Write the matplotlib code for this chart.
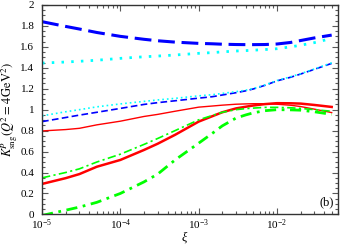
import numpy as np
import matplotlib
matplotlib.use("Agg")
import matplotlib.pyplot as plt
from matplotlib.ticker import LogLocator, MultipleLocator, FormatStrFormatter, NullFormatter

plt.rcParams['font.family'] = ['Liberation Serif', 'DejaVu Serif']
plt.rcParams['mathtext.fontset'] = 'stix'

# xi values (log grid)
xi = [1e-5, 2e-5, 3e-5, 5e-5, 1e-4, 2e-4, 3e-4, 5e-4, 1e-3, 1.5e-3,
      2e-3, 3e-3, 4e-3, 5e-3, 7e-3, 1e-2, 1.5e-2, 2e-2, 3e-2, 5e-2]

# blue, thick long dash
blue_thick = [1.84, 1.795, 1.77, 1.737, 1.70, 1.672, 1.658, 1.645, 1.633, 1.629,
              1.625, 1.622, 1.621, 1.621, 1.622, 1.627, 1.642, 1.66, 1.685, 1.712]
# blue, thin dash
blue_thin = [0.886, 0.925, 0.948, 0.975, 1.012, 1.050, 1.067, 1.085, 1.110, 1.124,
             1.140, 1.162, 1.18, 1.198, 1.232, 1.275, 1.31, 1.34, 1.385, 1.442]
# cyan, thick dotted
cyan_thick = [1.445, 1.455, 1.462, 1.472, 1.49, 1.505, 1.512, 1.522, 1.538, 1.545,
              1.552, 1.56, 1.564, 1.568, 1.574, 1.582, 1.60, 1.615, 1.64, 1.68]
# cyan, thin dotted
cyan_thin = [0.941, 0.98, 1.0, 1.027, 1.055, 1.079, 1.093, 1.108, 1.132, 1.143,
             1.155, 1.172, 1.186, 1.202, 1.236, 1.278, 1.315, 1.343, 1.388, 1.447]
# red, thick solid
red_thick = [0.291, 0.346, 0.385, 0.455, 0.52, 0.615, 0.675, 0.76, 0.886, 0.938,
             0.975, 1.012, 1.028, 1.04, 1.053, 1.062, 1.061, 1.058, 1.045, 1.026]
# red, thin solid
red_thin = [0.797, 0.81, 0.822, 0.855, 0.89, 0.935, 0.955, 0.985, 1.024, 1.035,
            1.043, 1.052, 1.055, 1.057, 1.057, 1.052, 1.042, 1.03, 1.005, 0.972]
# green, thick dash-dot
green_thick = [-0.01, 0.04, 0.07, 0.115, 0.20, 0.31, 0.385, 0.52, 0.68, 0.775,
               0.845, 0.92, 0.95, 0.97, 0.99, 1.0, 0.998, 0.995, 0.98, 0.955]
# green, thin dash-dot
green_thin = [0.349, 0.40, 0.435, 0.50, 0.575, 0.668, 0.725, 0.80, 0.903, 0.945,
              0.975, 1.0, 1.01, 1.015, 1.022, 1.022, 1.018, 1.012, 1.0, 0.985]

fig = plt.figure(figsize=(3.42, 2.47), dpi=100)
ax = fig.add_axes([0.123, 0.132, 0.865, 0.848])

ax.plot(xi, blue_thick, color='#0000ff', lw=2.2, dashes=(5.5, 2.2))
ax.plot(xi, cyan_thick, color='#00ffff', lw=2.0, dashes=(0.9, 2.6))
ax.plot(xi, blue_thin, color='#0000ff', lw=1.2, dashes=(4, 2))
ax.plot(xi, cyan_thin, color='#00ffff', lw=1.2, dashes=(1, 1.8))
ax.plot(xi, red_thin, color='#ff0000', lw=1.0)
ax.plot(xi, red_thick, color='#ff0000', lw=1.8)
ax.plot(xi, green_thin, color='#00ff00', lw=1.2, dashes=(5, 2, 1.3, 2))
ax.plot(xi, green_thick, color='#00ff00', lw=2.0, dashes=(4, 2, 1, 2))

ax.set_xscale('log')
ax.set_xlim(1e-5, 0.06)
ax.set_ylim(0, 2)
ax.xaxis.set_major_locator(LogLocator(base=10, numticks=10))
ax.xaxis.set_minor_locator(LogLocator(base=10, subs=np.arange(2, 10), numticks=10))
ax.xaxis.set_minor_formatter(NullFormatter())
ax.yaxis.set_major_locator(MultipleLocator(0.2))
ax.yaxis.set_minor_locator(MultipleLocator(0.05))
ax.yaxis.set_major_formatter(FormatStrFormatter('%g'))

ax.tick_params(which='both', direction='in', top=True, right=True, labelsize=8, width=0.8, color='0.35')
ax.tick_params(which='major', length=4)
ax.tick_params(which='minor', length=2)
ax.tick_params(axis='x', pad=2.5)
ax.tick_params(axis='y', pad=5.5)
for s in ax.spines.values():
    s.set_linewidth(1.0)
    s.set_color('0.2')

ax.set_xlabel('ξ', fontsize=9, style='italic')
ax.xaxis.set_label_coords(0.482, -0.082)
ax.set_ylabel(r'$\dot{K}^{P}_{\rm sng}(Q^2 = 4\,{\rm GeV}^2)$', fontsize=9, labelpad=0)
ax.text(0.985, 0.03, '(b)', transform=ax.transAxes, ha='right', va='bottom', fontsize=9)

fig.savefig('out.png', dpi=100)
